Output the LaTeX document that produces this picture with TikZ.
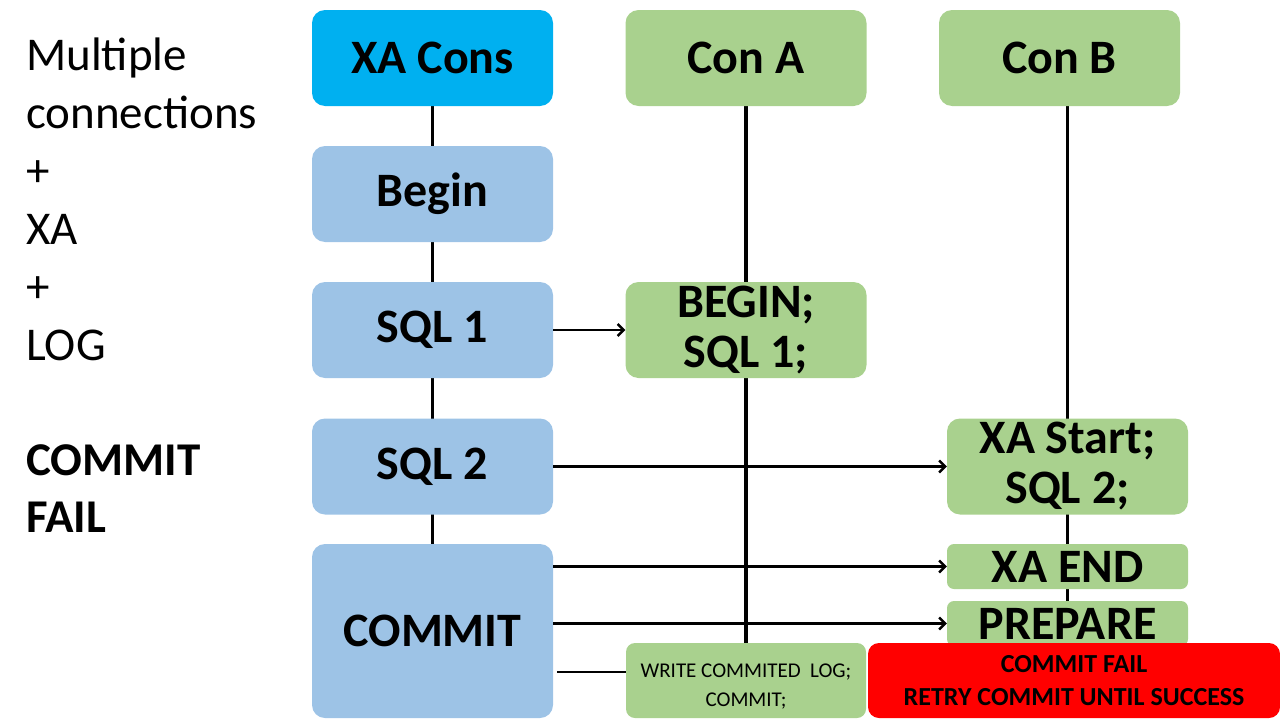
\documentclass[tikz,border=0pt]{standalone}
\usepackage{fontspec}
\setmainfont{Carlito}
\usetikzlibrary{backgrounds,arrows.meta}
\definecolor{xablue}{HTML}{00B0F0}
\definecolor{stepblue}{HTML}{9DC3E6}
\definecolor{congreen}{HTML}{A9D18E}
\definecolor{failred}{HTML}{FF0000}
\tikzset{
  box/.style={rounded corners=13pt, inner sep=0pt, align=center,
    minimum width=241pt, minimum height=96pt,
    font=\fontsize{48}{50}\selectfont\bfseries},
  smallbox/.style={box, rounded corners=7pt, minimum height=45pt},
  lifeline/.style={line width=3.2pt},
  msg/.style={line width=2.4pt, -{Straight Barb[length=6pt,width=12pt]}}
}
\begin{document}
\begin{tikzpicture}[x=1pt,y=-1pt]
\useasboundingbox (0,0) rectangle (1280,720);
% left captions
\node[anchor=north west, inner sep=0pt, align=left, font=\fontsize{47}{58}\selectfont]
  (caption) at (26,38) {Multiple\\connections\\+\\XA\\+\\LOG};
\node[anchor=north west, inner sep=0pt, align=left, font=\fontsize{47}{57}\selectfont\bfseries]
  (failnote) at (26,444) {COMMIT\\FAIL};
% heads
\node[box, fill=xablue] (xacons) at (432.5,58) {XA Cons};
\node[box, fill=congreen] (cona) at (746,58) {Con A};
\node[box, fill=congreen] (conb) at (1059.5,58) {Con B};
% XA side steps
\node[box, fill=stepblue] (begin) at (432.5,194) {Begin};
\node[box, fill=stepblue] (sqla) at (432.5,330) {SQL 1};
\node[box, fill=stepblue] (sqlb) at (432.5,466.5) {SQL 2};
\node[box, fill=stepblue, minimum height=174pt] (commit) at (432.5,631) {COMMIT};
% connection side
\node[box, fill=congreen] (beginsql) at (746,330) {BEGIN;\\SQL 1;};
\node[box, fill=congreen] (xastart) at (1067.5,466.5) {XA Start;\\SQL 2;};
\node[smallbox, fill=congreen] (xaend) at (1067.5,566.5) {XA END};
\node[smallbox, fill=congreen] (prepare) at (1067.5,623.5) {PREPARE};
\node[box, fill=congreen, minimum width=240pt, minimum height=75pt, rounded corners=9pt,
  font=\fontsize{21}{29}\selectfont] (writelog) at (746,680.5) {\\[-4pt]WRITE COMMITED\ \ LOG;\\COMMIT;};
\node[box, fill=failred, minimum width=412pt, minimum height=75pt, rounded corners=11pt,
  font=\fontsize{26}{33}\selectfont\bfseries] (fail) at (1074,680.5) {COMMIT FAIL\\RETRY COMMIT UNTIL SUCCESS};
% lifelines
\begin{scope}[on background layer]
\draw[lifeline] (xacons.south) -- (commit.north);
\draw[lifeline] (cona.south) -- (writelog.north);
\draw[lifeline] (prepare.north |- conb.south) -- (prepare.north);
\end{scope}
% messages
\draw[msg] (sqla) -- (beginsql);
\draw[msg] (sqlb) -- (xastart);
\draw[msg] (commit.east |- xaend.west) -- (xaend.west);
\draw[msg] (commit.east |- prepare.west) -- (prepare.west);
\draw[msg, -] ([xshift=4pt,yshift=8.5pt]commit.east |- writelog.west) -- ([yshift=8.5pt]writelog.west);
\end{tikzpicture}
\end{document}
